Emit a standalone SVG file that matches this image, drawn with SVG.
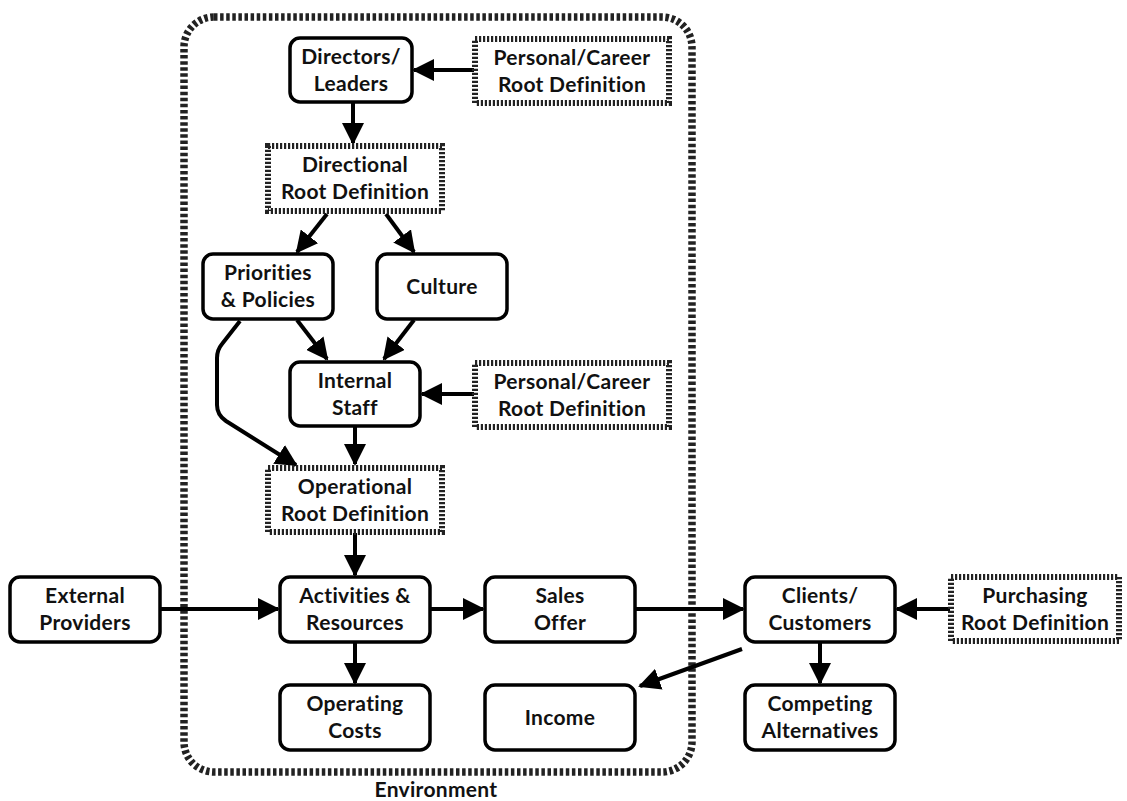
<svg xmlns="http://www.w3.org/2000/svg" width="1127" height="801" viewBox="0 0 1127 801">
<defs>
<style>
.n rect{fill:#fff;stroke:#000;stroke-width:3.5}
.d rect{fill:#fff;stroke:#222;stroke-width:6;stroke-dasharray:2.2 1.8}
text{font-family:Lato,"Open Sans","Liberation Sans",sans-serif;font-weight:bold;font-size:21px;letter-spacing:0.3px;font-variant-ligatures:none;fill:#111;text-anchor:middle}
.c path,.c line{stroke:#000;stroke-width:4;fill:none;marker-end:url(#ah)}
</style>
<marker id="ah" markerWidth="5.5" markerHeight="5.5" refX="5" refY="2.75" orient="auto" markerUnits="strokeWidth" viewBox="0 0 5.5 5.5">
<path d="M0,0 L5.5,2.75 L0,5.5 z" fill="#000"/>
</marker>
</defs>
<rect width="1127" height="801" fill="#fff"/>
<g id="environment">
<rect x="184" y="17" width="508" height="755" rx="30" fill="none" stroke="#222" stroke-width="7.5" stroke-dasharray="3.5 2.6"/>
<text x="436" y="797">Environment</text>
</g>
<g class="c" id="connectors">
<line x1="474" y1="70" x2="414" y2="70"/>
<line x1="353" y1="102" x2="353" y2="143"/>
<line x1="327" y1="214" x2="297" y2="252"/>
<line x1="386" y1="214" x2="414" y2="252"/>
<line x1="297" y1="320" x2="327" y2="359"/>
<line x1="414" y1="320" x2="384" y2="359"/>
<line x1="474" y1="394" x2="422" y2="394"/>
<line x1="355" y1="426" x2="355" y2="464"/>
<path d="M240,321 L222,344 Q217,350 217,358 L217,405 Q217,415 226,421 L296,465"/>
<line x1="355" y1="533" x2="355" y2="575"/>
<line x1="160" y1="609" x2="278" y2="609"/>
<line x1="430" y1="609" x2="483" y2="609"/>
<line x1="635" y1="609" x2="743" y2="609"/>
<line x1="950" y1="609" x2="897" y2="609"/>
<line x1="355" y1="642" x2="355" y2="683"/>
<line x1="742" y1="649" x2="640" y2="686"/>
<line x1="820" y1="642" x2="820" y2="683"/>
</g>
<g id="directors" class="n"><rect x="290" y="38" width="122" height="64" rx="10"/><text x="351" y="64">Directors/</text><text x="351" y="91">Leaders</text></g>
<g id="personal1" class="d"><rect x="475" y="39" width="194" height="64"/><text x="572" y="65">Personal/Career</text><text x="572" y="92">Root Definition</text></g>
<g id="directional" class="d"><rect x="268" y="146" width="174" height="65"/><text x="355" y="172">Directional</text><text x="355" y="199">Root Definition</text></g>
<g id="priorities" class="n"><rect x="203" y="254" width="130" height="65" rx="10"/><text x="268" y="280">Priorities</text><text x="268" y="307">&amp; Policies</text></g>
<g id="culture" class="n"><rect x="377" y="254" width="130" height="65" rx="10"/><text x="442" y="294">Culture</text></g>
<g id="internal" class="n"><rect x="290" y="362" width="130" height="64" rx="10"/><text x="355" y="388">Internal</text><text x="355" y="415">Staff</text></g>
<g id="personal2" class="d"><rect x="475" y="363" width="194" height="64"/><text x="572" y="389">Personal/Career</text><text x="572" y="416">Root Definition</text></g>
<g id="operational" class="d"><rect x="268" y="468" width="174" height="64"/><text x="355" y="494">Operational</text><text x="355" y="521">Root Definition</text></g>
<g id="external" class="n"><rect x="10" y="577" width="150" height="65" rx="10"/><text x="85" y="603">External</text><text x="85" y="630">Providers</text></g>
<g id="activities" class="n"><rect x="280" y="577" width="150" height="65" rx="10"/><text x="355" y="603">Activities &amp;</text><text x="355" y="630">Resources</text></g>
<g id="sales" class="n"><rect x="485" y="577" width="150" height="65" rx="10"/><text x="560" y="603">Sales</text><text x="560" y="630">Offer</text></g>
<g id="clients" class="n"><rect x="745" y="577" width="150" height="65" rx="10"/><text x="820" y="603">Clients/</text><text x="820" y="630">Customers</text></g>
<g id="purchasing" class="d"><rect x="951" y="577" width="168" height="64"/><text x="1035" y="603">Purchasing</text><text x="1035" y="630">Root Definition</text></g>
<g id="operating" class="n"><rect x="280" y="685" width="150" height="65" rx="10"/><text x="355" y="711">Operating</text><text x="355" y="738">Costs</text></g>
<g id="income" class="n"><rect x="485" y="685" width="150" height="65" rx="10"/><text x="560" y="725">Income</text></g>
<g id="competing" class="n"><rect x="745" y="685" width="150" height="65" rx="10"/><text x="820" y="711">Competing</text><text x="820" y="738">Alternatives</text></g>
</svg>
